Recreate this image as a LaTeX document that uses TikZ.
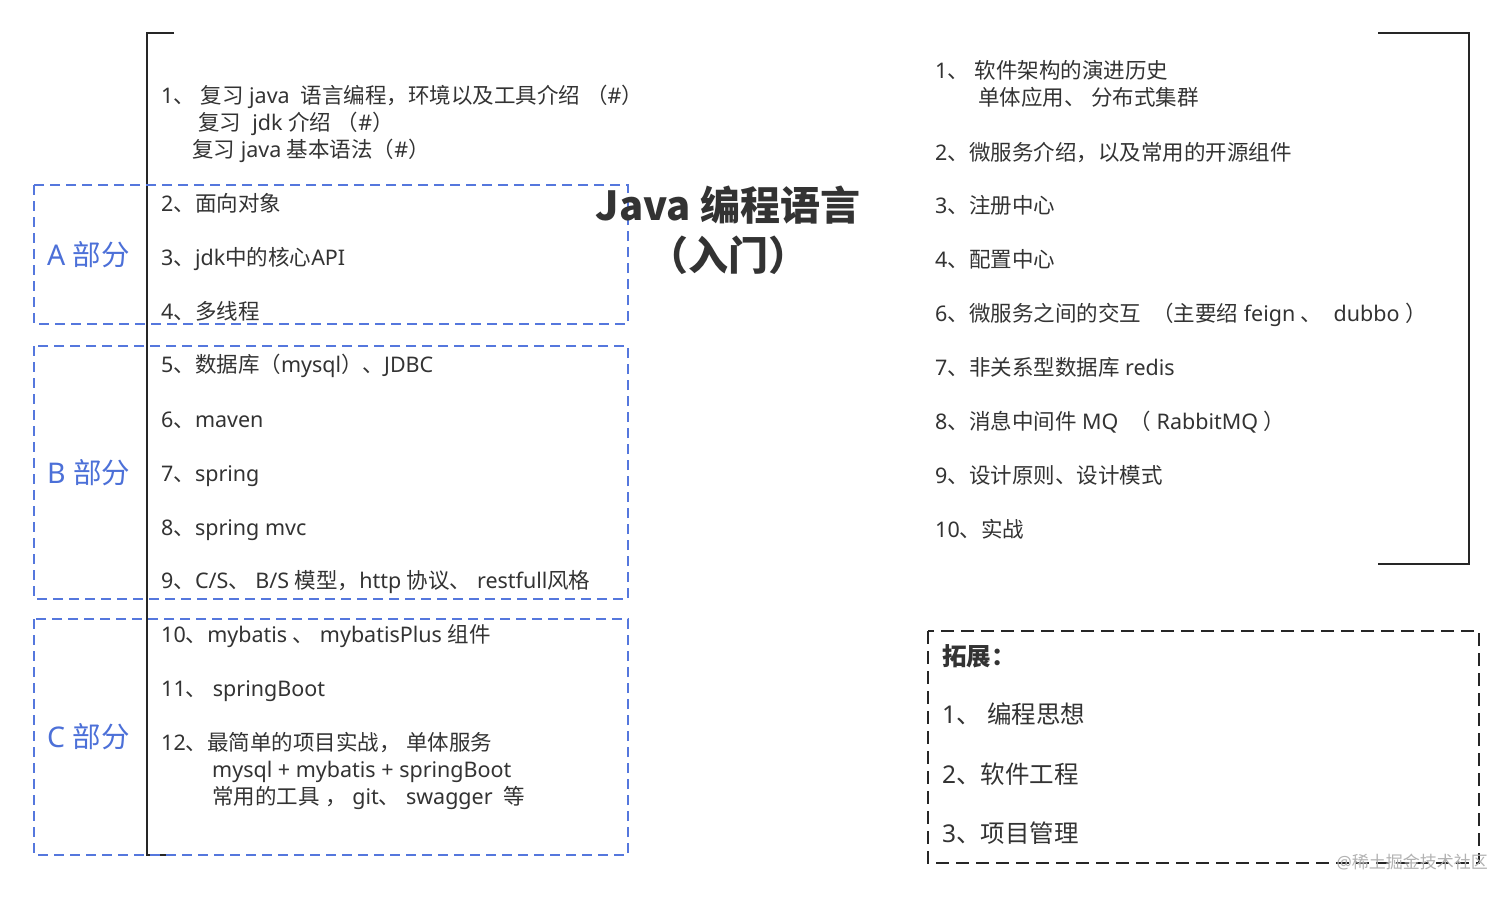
\documentclass[tikz,border=0pt]{standalone}
\usepackage{fontspec}
\setmainfont{Noto Sans}
\newfontfamily\cjkfont{Noto Sans CJK SC}
\XeTeXinterchartokenstate=1
\newXeTeXintercharclass\CJKcls
\newcount\cjkc
\def\cjkrange#1#2{\cjkc=#1\relax\loop\XeTeXcharclass\cjkc=\CJKcls\relax\ifnum\cjkc<#2\advance\cjkc by 1\repeat}
\cjkrange{"3000}{"303F}
\cjkrange{"4E00}{"9FFF}
\cjkrange{"FF00}{"FFEF}
\XeTeXinterchartoks 0 \CJKcls = {\begingroup\cjkfont}
\XeTeXinterchartoks 4095 \CJKcls = {\begingroup\cjkfont}
\XeTeXinterchartoks \CJKcls 0 = {\endgroup}
\XeTeXinterchartoks \CJKcls 4095 = {\endgroup}
\begin{document}
\begin{tikzpicture}[x=1pt,y=-1pt,
  txt/.style={anchor=west,inner sep=0pt,yshift=-5pt,text=black!80,font=\fontsize{21.5}{24}\selectfont,text height=0.88em,text depth=0.12em},
  bigtxt/.style={txt,font=\fontsize{24.5}{28}\selectfont},
  lbl/.style={anchor=west,inner sep=0pt,yshift=-7pt,text=partblue,font=\fontsize{28.5}{32}\selectfont,text height=0.88em,text depth=0.12em},
  bracket/.style={draw=black!85,line width=2.6pt},
  bluebox/.style={draw=dashblue,line width=2.2pt,dash pattern=on 10pt off 6pt},
  blackbox/.style={draw=black!85,line width=2.2pt,dash pattern=on 13pt off 7pt},
  ttl/.style={anchor=center,inner sep=0pt,yshift=-9pt,text=black!80,font=\cjkfont\bfseries\fontsize{40}{44}\selectfont,text height=0.88em,text depth=0.12em}]
\definecolor{dashblue}{HTML}{5577DD}
\definecolor{partblue}{HTML}{4C70D8}
\useasboundingbox[fill=white] (0,0) rectangle (1512,897);

% brackets
\draw[bracket] (174,33) -- (147,33) -- (147,855) -- (174,855);
\draw[bracket] (1378,33) -- (1469,33) -- (1469,564) -- (1378,564);

% blue dashed groups
\draw[bluebox] (34,185) rectangle (628,324);
\draw[bluebox] (34,346) rectangle (628,599);
\draw[bluebox] (34,619) rectangle (628,855);
\node[lbl] (la) at (47,255) {A 部分};
\node[lbl] (lb) at (47,473) {B 部分};
\node[lbl] (lc) at (47,737) {C 部分};

% left list
\node[txt] (l1a) at (161,95) {1、 复习 java~ 语言编程，环境以及工具介绍 （\#）};
\node[txt] (l1b) at (198,122) {复习~ jdk 介绍 （\#）};
\node[txt] (l1c) at (192,149) {复习 java 基本语法（\#）};
\node[txt] (l2) at (161,203) {2、面向对象};
\node[txt] (l3) at (161,257) {3、jdk中的核心API};
\node[txt] (l4) at (161,311) {4、多线程};
\node[txt] (l5) at (161,364) {5、数据库（mysql）、JDBC};
\node[txt] (l6) at (161,419) {6、maven};
\node[txt] (l7) at (161,473) {7、spring};
\node[txt] (l8) at (161,527) {8、spring mvc};
\node[txt] (l9) at (161,580) {9、C/S、 B/S 模型，http 协议、 restfull风格};
\node[txt] (l10) at (161,634) {10、mybatis 、 mybatisPlus 组件};
\node[txt] (l11) at (161,688) {11、 springBoot};
\node[txt] (l12a) at (161,742) {12、最简单的项目实战， 单体服务};
\node[txt] (l12b) at (212,769) {mysql + mybatis + springBoot};
\node[txt] (l12c) at (212,796) {常用的工具 ， git、 swagger~ 等};

% title
\node[ttl] (t1) at (728,208) {Java 编程语言};
\node[ttl] (t2) at (728,258) {（入门）};

% right list
\node[txt] (r1a) at (935,70) {1、 软件架构的演进历史};
\node[txt] (r1b) at (978,97) {单体应用、 分布式集群};
\node[txt] (r2) at (935,152) {2、微服务介绍，以及常用的开源组件};
\node[txt] (r3) at (935,205) {3、注册中心};
\node[txt] (r4) at (935,259) {4、配置中心};
\node[txt] (r6) at (935,313) {6、微服务之间的交互 ~（主要绍 feign 、~ dubbo ）};
\node[txt] (r7) at (935,367) {7、非关系型数据库 redis};
\node[txt] (r8) at (935,421) {8、消息中间件 MQ ~（ RabbitMQ ）};
\node[txt] (r9) at (935,475) {9、设计原则、设计模式};
\node[txt] (r10) at (935,529) {10、实战};

% extension box
\draw[blackbox] (928,631) rectangle (1479,863);
\node[bigtxt,font=\bfseries\fontsize{24.5}{28}\selectfont] (e0) at (942,657) {拓展：};
\node[bigtxt] (e1) at (942,715) {1、 编程思想};
\node[bigtxt] (e2) at (942,775) {2、软件工程};
\node[bigtxt] (e3) at (942,834) {3、项目管理};

% watermark
\node[anchor=east,inner sep=0pt,text=black!30,font=\fontsize{17}{20}\selectfont] (wm) at (1488,862) {@稀土掘金技术社区};
\end{tikzpicture}
\end{document}
